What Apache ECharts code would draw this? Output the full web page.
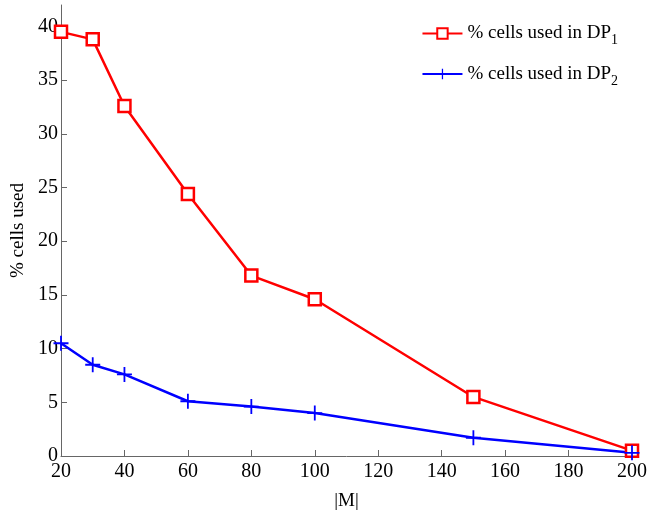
<!DOCTYPE html>
<html>
<head>
<meta charset="utf-8">
<script src="https://cdn.jsdelivr.net/npm/echarts@6/dist/echarts.min.js"></script>
<style>
  html, body { margin: 0; padding: 0; background: #fff; }
  #chart { width: 647px; height: 512px; }
</style>
</head>
<body>
<div id="chart"></div>
<script>
// |M| values
const mValues = [20, 30, 40, 60, 80, 100, 150, 200];
// % cells used in DP1 / DP2
const dp1 = [39.5, 38.8, 32.6, 24.4, 16.8, 14.6, 5.5, 0.5];
const dp2 = [10.5, 8.5, 7.6, 5.1, 4.6, 4.0, 1.7, 0.3];
const yTicks = [0, 5, 10, 15, 20, 25, 30, 35, 40];

const font = 'Liberation Serif';
const plusIcon = 'path://M-1,-0.12H1V0.12H-1Z M-0.12,-1H0.12V1H-0.12Z';

const chart = echarts.init(document.getElementById('chart'));
chart.setOption({
  backgroundColor: '#fff',
  animation: false,
  grid: { left: 61, right: 15, top: 5, bottom: 56, outerBoundsMode: 'none', containLabel: false },
  legend: {
    right: 24,
    top: 19,
    orient: 'vertical',
    itemGap: 17,
    itemWidth: 40,
    itemHeight: 13,
    formatter: function (name) {
      return '% cells used in DP{sub|' + name.slice(2) + '}';
    },
    textStyle: {
      fontFamily: font,
      fontSize: 19,
      color: '#000',
      rich: {
        sub: { fontFamily: font, fontSize: 14, verticalAlign: 'bottom', padding: [14, 0, 0, 0] }
      }
    }
  },
  xAxis: {
    type: 'value',
    min: 20,
    max: 200,
    interval: 20,
    name: '|M|',
    nameLocation: 'middle',
    nameGap: 36,
    nameTextStyle: { fontFamily: font, fontSize: 19, color: '#000' },
    axisLine: { lineStyle: { color: '#666', width: 1 } },
    axisTick: { inside: true, length: 6, lineStyle: { color: '#666' } },
    axisLabel: { fontFamily: font, fontSize: 20, color: '#000', margin: 6 },
    splitLine: { show: false }
  },
  yAxis: {
    type: 'value',
    min: 0,
    max: 42,
    name: '% cells used',
    nameLocation: 'middle',
    nameRotate: 90,
    nameGap: 33,
    nameTextStyle: { fontFamily: font, fontSize: 19, color: '#000' },
    axisLine: { show: true, lineStyle: { color: '#666', width: 1 } },
    axisTick: { show: true, inside: true, length: 6, customValues: yTicks, lineStyle: { color: '#666' } },
    axisLabel: { fontFamily: font, fontSize: 20, color: '#000', margin: 3, customValues: yTicks },
    splitLine: { show: false }
  },
  series: [
    {
      name: 'DP1',
      type: 'line',
      data: mValues.map((m, i) => [m, dp1[i]]),
      symbol: 'rect',
      symbolSize: 12,
      lineStyle: { color: '#ff0000', width: 2.5 },
      itemStyle: { color: '#fff', borderColor: '#ff0000', borderWidth: 2.5 }
    },
    {
      name: 'DP2',
      type: 'line',
      data: mValues.map((m, i) => [m, dp2[i]]),
      symbol: plusIcon,
      symbolSize: 15,
      lineStyle: { color: '#0000ff', width: 2.5 },
      itemStyle: { color: '#0000ff' }
    }
  ]
});
</script>
</body>
</html>
